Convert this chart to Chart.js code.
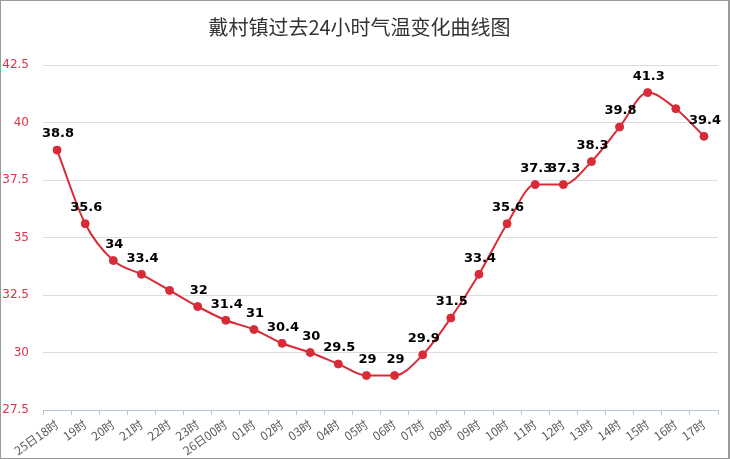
<!DOCTYPE html>
<html>
<head>
<meta charset="utf-8">
<script src="https://cdn.jsdelivr.net/npm/chart.js@4"></script>
<style>
  html, body { margin: 0; padding: 0; background: #fff; }
  #wrap { width: 730px; height: 459px; box-sizing: border-box; border: 1px solid #9a9a9a; border-right-width: 2px; }
</style>
</head>
<body>
<div id="wrap"><canvas id="temp-chart" width="727" height="457"></canvas></div>
<script>
// hourly temperature, last 24 hours
const hours = ['25日18时', '19时', '20时', '21时', '22时', '23时', '26日00时', '01时', '02时', '03时',
  '04时', '05时', '06时', '07时', '08时', '09时', '10时', '11时', '12时', '13时', '14时', '15时', '16时', '17时'];
const temps = [38.8, 35.6, 34, 33.4, 32.7, 32, 31.4, 31, 30.4, 30, 29.5, 29, 29, 29.9, 31.5, 33.4,
  35.6, 37.3, 37.3, 38.3, 39.8, 41.3, 40.6, 39.4];
// labels the original hid because they overlapped
const hiddenLabels = [4, 22];
const yTicks = [27.5, 30, 32.5, 35, 37.5, 40, 42.5];

const lineColor = '#d92b37';

// draw the value above each point
const valueLabels = {
    id: 'valueLabels',
    afterDatasetsDraw(chart) {
        const ctx = chart.ctx;
        const meta = chart.getDatasetMeta(0);
        ctx.save();
        ctx.font = 'bold 13px "DejaVu Sans", sans-serif';
        ctx.fillStyle = '#000';
        ctx.textAlign = 'center';
        ctx.textBaseline = 'middle';
        meta.data.forEach((pt, i) => {
            if (hiddenLabels.includes(i)) return;
            ctx.fillText(String(temps[i]), pt.x + 1, pt.y - 16);
        });
        ctx.restore();
    }
};

let ctx = document.getElementById('temp-chart');
new Chart(ctx, {
    type: 'line',
    data: {
        labels: hours,
        datasets: [{
            data: temps,
            borderColor: lineColor,
            backgroundColor: lineColor,
            borderWidth: 2,
            pointRadius: 4,
            pointBorderWidth: 1,
            pointBackgroundColor: lineColor,
            pointBorderColor: lineColor,
            cubicInterpolationMode: 'monotone',
            fill: false
        }]
    },
    plugins: [valueLabels],
    options: {
        responsive: false,
        animation: false,
        layout: { padding: { right: 10 } },
        plugins: {
            legend: { display: false },
            tooltip: { enabled: false },
            title: {
                display: true,
                text: '戴村镇过去24小时气温变化曲线图',
                color: '#333',
                font: { size: 20, weight: 'normal', family: '"Noto Sans CJK SC", sans-serif' },
                padding: { top: 14, bottom: 26 }
            }
        },
        scales: {
            x: {
                offset: true,
                grid: { display: true, offset: true, drawOnChartArea: false, drawTicks: true, tickLength: 5, color: '#b6c8dc' },
                border: { display: true, color: '#b6c8dc' },
                ticks: {
                    color: '#5a5a5a',
                    font: { size: 12, family: '"Noto Sans CJK SC", sans-serif' },
                    minRotation: 35,
                    maxRotation: 35,
                    autoSkip: false,
                    padding: 2
                },
                afterFit(scale) { scale.height = 48; }
            },
            y: {
                min: 27.5,
                max: 42.5,
                afterBuildTicks(scale) { scale.ticks = yTicks.map(v => ({ value: v })); },
                grid: { color: '#dcdcdc', drawTicks: false },
                border: { display: false },
                ticks: {
                    color: '#e0304a',
                    font: { size: 12, family: '"DejaVu Sans", sans-serif' },
                    padding: 14
                },
                afterFit(scale) { scale.width = 42; }
            }
        }
    }
});
</script>
</body>
</html>
